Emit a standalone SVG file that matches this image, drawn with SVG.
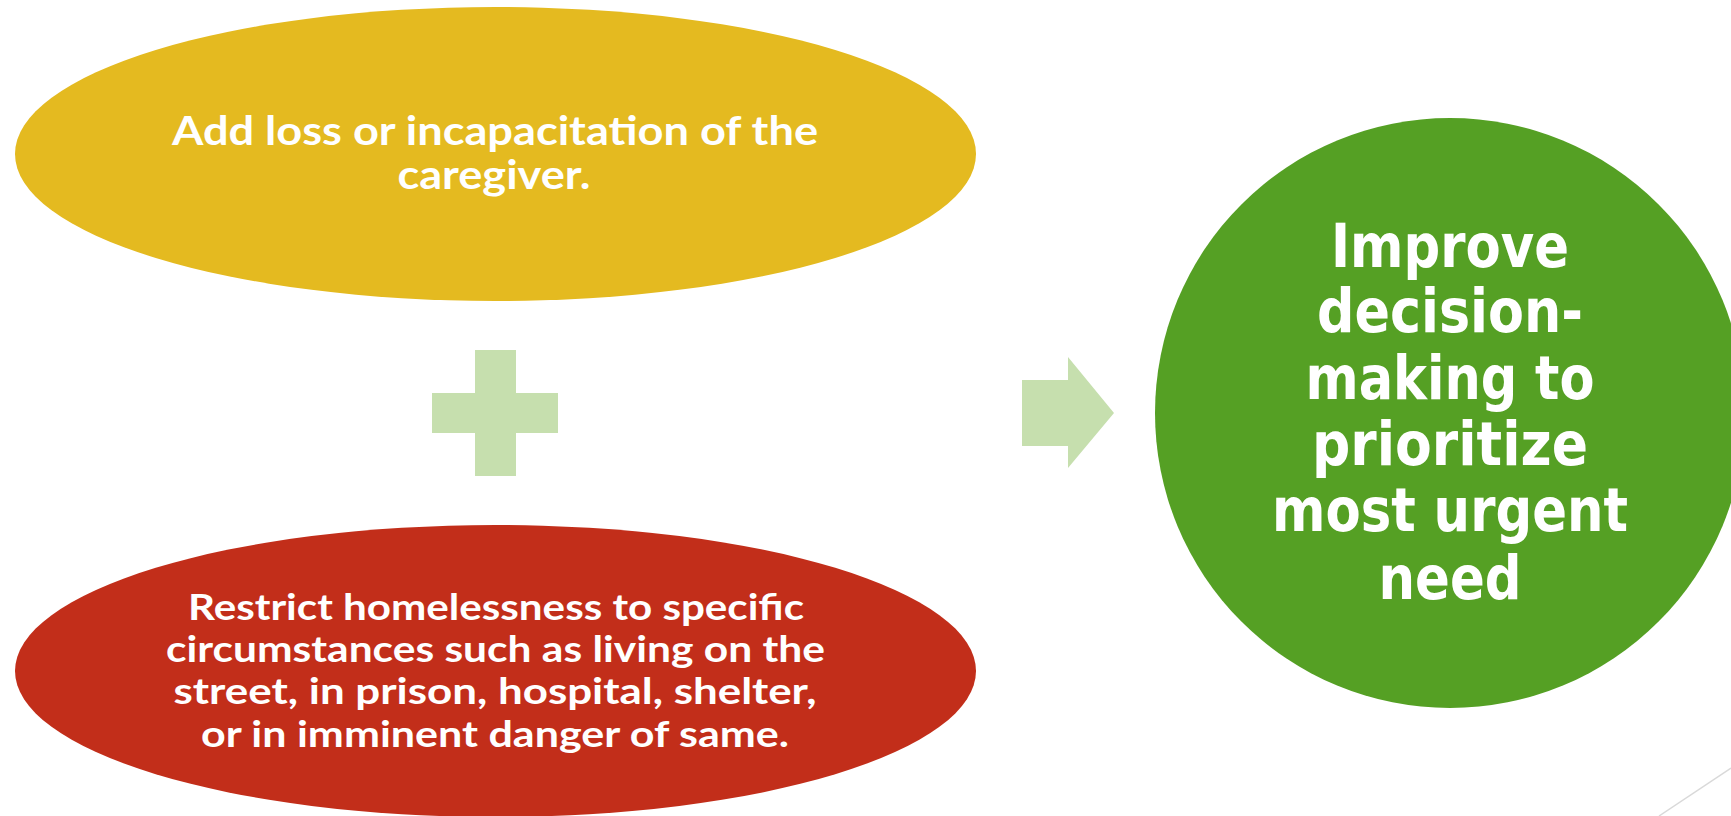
<svg xmlns="http://www.w3.org/2000/svg" width="1731" height="816" viewBox="0 0 1731 816">
<style>
.lbl{font-family:Lato,"Open Sans","Liberation Sans",sans-serif;font-weight:bold;fill:#FFFFFF;text-anchor:middle}
.big{font-family:"DejaVu Sans","Open Sans","Liberation Sans",sans-serif;font-weight:bold;fill:#FFFFFF;text-anchor:middle;font-size:61px}
.sym{fill:#C6DFAE}
</style>
<rect x="0" y="0" width="1731" height="816" fill="#FFFFFF"/>
<g id="node-caregiver">
<ellipse cx="495.5" cy="154" rx="480.5" ry="147" fill="#E4BA20"/>
<text class="lbl" font-size="41" x="495" y="145" textLength="646" lengthAdjust="spacingAndGlyphs">Add loss or incapacitation of the</text>
<text class="lbl" font-size="41" x="494" y="189" textLength="193" lengthAdjust="spacingAndGlyphs">caregiver.</text>
</g>
<g id="node-homelessness">
<ellipse cx="495.5" cy="671" rx="480.5" ry="146" fill="#C22E1A"/>
<text class="lbl" font-size="36" x="496" y="620" textLength="616" lengthAdjust="spacingAndGlyphs">Restrict homelessness to specific</text>
<text class="lbl" font-size="36" x="495.5" y="662" textLength="659" lengthAdjust="spacingAndGlyphs">circumstances such as living on the</text>
<text class="lbl" font-size="36" x="495" y="704" textLength="643" lengthAdjust="spacingAndGlyphs">street, in prison, hospital, shelter,</text>
<text class="lbl" font-size="36" x="495" y="747" textLength="588" lengthAdjust="spacingAndGlyphs">or in imminent danger of same.</text>
</g>
<g id="node-improve">
<circle cx="1450" cy="413" r="295" fill="#55A024"/>
<text class="big" x="1450" y="267" textLength="238" lengthAdjust="spacingAndGlyphs">Improve</text>
<text class="big" x="1450" y="332" textLength="266" lengthAdjust="spacingAndGlyphs">decision-</text>
<text class="big" x="1450" y="399" textLength="289" lengthAdjust="spacingAndGlyphs">making to</text>
<text class="big" x="1450" y="465" textLength="276" lengthAdjust="spacingAndGlyphs">prioritize</text>
<text class="big" x="1450" y="531" textLength="356" lengthAdjust="spacingAndGlyphs">most urgent</text>
<text class="big" x="1450" y="599" textLength="143" lengthAdjust="spacingAndGlyphs">need</text>
</g>
<g id="connectors">
<path class="sym" d="M475,350 H516 V393 H558 V433 H516 V476 H475 V433 H432 V393 H475 Z"/>
<path class="sym" d="M1022,380 H1068 V357 L1114,413 L1068,468 V446 H1022 Z"/>
</g>
<line x1="1659" y1="816" x2="1731" y2="768" stroke="#D9D9D9" stroke-width="1.5"/>
</svg>
